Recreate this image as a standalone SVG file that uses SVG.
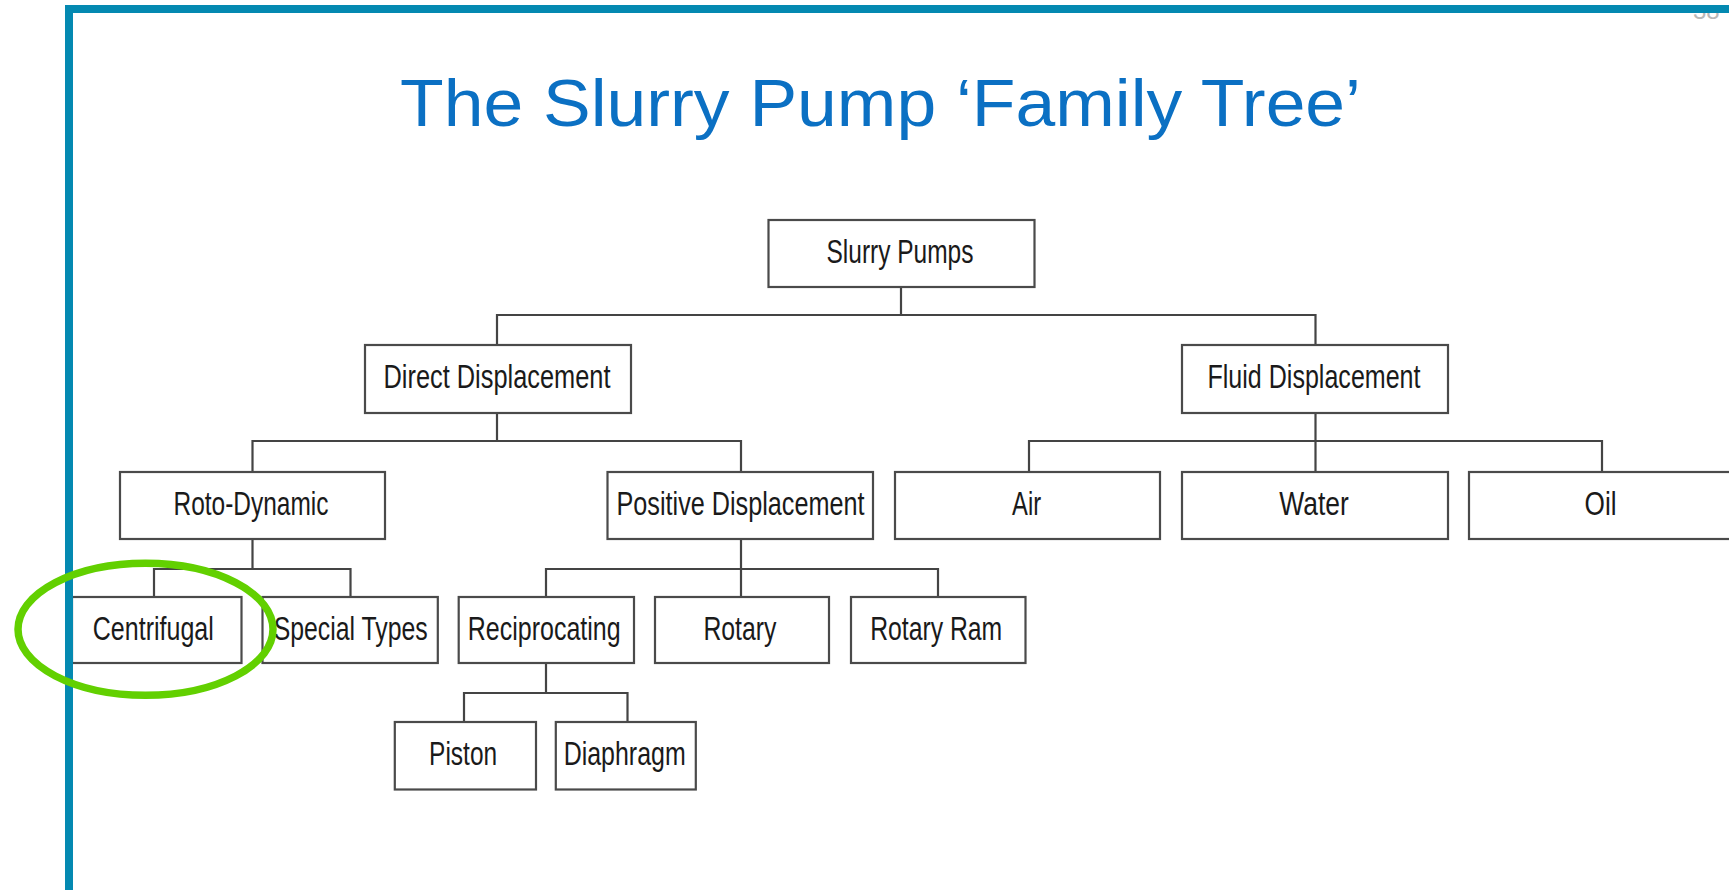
<svg xmlns="http://www.w3.org/2000/svg" width="1729" height="890" viewBox="0 0 1729 890">
  <defs>
    <style>
      .box { fill: #ffffff; stroke: #4a4a4a; stroke-width: 2.2; }
      .lbl { font-family: "Liberation Sans Narrow", "Liberation Sans", Arial, sans-serif; font-size: 33px; fill: #1a1a1a; text-anchor: middle; }
      .conn { fill: none; stroke: #444444; stroke-width: 2.2; }
      .title { font-family: "Liberation Sans", Arial, sans-serif; font-size: 66px; fill: #0B70C3; }
    </style>
    <clipPath id="numclip"><rect x="1600" y="13" width="129" height="20"/></clipPath>
  </defs>
  <rect x="0" y="0" width="1729" height="890" fill="#ffffff"/>
  <text x="1693" y="19" font-family="Liberation Sans, Arial, sans-serif" font-size="24" fill="#b8b8b8" clip-path="url(#numclip)">38</text>

  <text class="title" x="400" y="126" textLength="961" lengthAdjust="spacingAndGlyphs">The Slurry Pump ‘Family Tree’</text>

  <g id="connectors">
    <path class="conn" d="M901,287 V315 M497,345 V315 H1315.5 V345"/>
    <path class="conn" d="M497,413 V441 M252.5,472 V441 H741 V472"/>
    <path class="conn" d="M1315.5,413 V472 M1029,472 V441 H1602 V472"/>
    <path class="conn" d="M252.5,539 V569 M154,597 V569 H350.5 V597"/>
    <path class="conn" d="M741,539 V597 M546,597 V569 H938 V597"/>
    <path class="conn" d="M546,663 V693 M464,722 V693 H627.5 V722"/>
  </g>

  <g id="slurry-pumps"><rect class="box" x="768.5" y="220" width="266" height="67"/><text class="lbl" x="900" y="263" textLength="147" lengthAdjust="spacingAndGlyphs">Slurry Pumps</text></g>
  <g id="direct-displacement"><rect class="box" x="365" y="345" width="266" height="68"/><text class="lbl" x="497" y="388" textLength="227" lengthAdjust="spacingAndGlyphs">Direct Displacement</text></g>
  <g id="fluid-displacement"><rect class="box" x="1182" y="345" width="266" height="68"/><text class="lbl" x="1314" y="388" textLength="213" lengthAdjust="spacingAndGlyphs">Fluid Displacement</text></g>
  <g id="roto-dynamic"><rect class="box" x="120" y="472" width="265" height="67"/><text class="lbl" x="251" y="515" textLength="155" lengthAdjust="spacingAndGlyphs">Roto-Dynamic</text></g>
  <g id="positive-displacement"><rect class="box" x="607.5" y="472" width="265.5" height="67"/><text class="lbl" x="740.5" y="515" textLength="248" lengthAdjust="spacingAndGlyphs">Positive Displacement</text></g>
  <g id="air"><rect class="box" x="895" y="472" width="265" height="67"/><text class="lbl" x="1026.6" y="515" textLength="29" lengthAdjust="spacingAndGlyphs">Air</text></g>
  <g id="water"><rect class="box" x="1182" y="472" width="266" height="67"/><text class="lbl" x="1314" y="515" textLength="69.5" lengthAdjust="spacingAndGlyphs">Water</text></g>
  <g id="oil"><rect class="box" x="1469" y="472" width="280" height="67"/><text class="lbl" x="1600.6" y="515" textLength="32" lengthAdjust="spacingAndGlyphs">Oil</text></g>
  <g id="centrifugal"><rect class="box" x="72" y="597" width="169.5" height="66"/><text class="lbl" x="153.3" y="640" textLength="121" lengthAdjust="spacingAndGlyphs">Centrifugal</text></g>
  <g id="special-types"><rect class="box" x="262.5" y="597" width="175.3" height="66"/><text class="lbl" x="350.7" y="640" textLength="154" lengthAdjust="spacingAndGlyphs">Special Types</text></g>
  <g id="reciprocating"><rect class="box" x="458.7" y="597" width="175.3" height="66"/><text class="lbl" x="544.2" y="640" textLength="153" lengthAdjust="spacingAndGlyphs">Reciprocating</text></g>
  <g id="rotary"><rect class="box" x="655" y="597" width="174" height="66"/><text class="lbl" x="739.9" y="640" textLength="73" lengthAdjust="spacingAndGlyphs">Rotary</text></g>
  <g id="rotary-ram"><rect class="box" x="851" y="597" width="174.5" height="66"/><text class="lbl" x="936.2" y="640" textLength="132" lengthAdjust="spacingAndGlyphs">Rotary Ram</text></g>
  <g id="piston"><rect class="box" x="394.8" y="722" width="141.2" height="67.5"/><text class="lbl" x="463.1" y="765" textLength="68" lengthAdjust="spacingAndGlyphs">Piston</text></g>
  <g id="diaphragm"><rect class="box" x="555.8" y="722" width="140" height="67.5"/><text class="lbl" x="624.7" y="765" textLength="122" lengthAdjust="spacingAndGlyphs">Diaphragm</text></g>

  <rect x="65" y="5" width="1664" height="8" fill="#0489B1"/>
  <rect x="65" y="5" width="8" height="885" fill="#0489B1"/>

  <ellipse cx="145.5" cy="629.3" rx="127.5" ry="66" fill="none" stroke="#62D000" stroke-width="7.5"/>
</svg>
